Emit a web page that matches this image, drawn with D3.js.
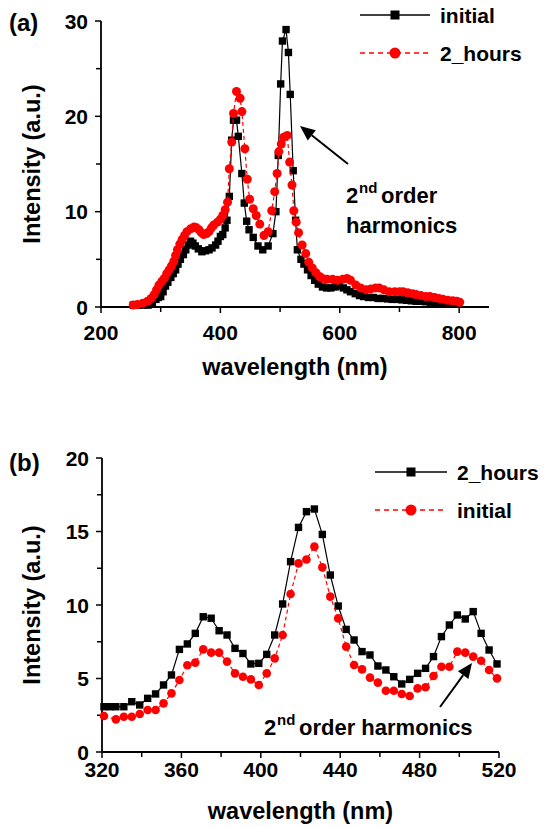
<!DOCTYPE html>
<html><head><meta charset="utf-8">
<script src="https://cdn.jsdelivr.net/npm/d3@7"></script>
<style>
body{margin:0;background:#fff;}
svg{display:block;font-family:"Liberation Sans",Arial,Helvetica,sans-serif;font-weight:bold;}
</style></head>
<body><svg id="c" width="545" height="827"></svg>
<script>
// ---------- Panel (a) data ----------
const aInitialX = [254,262,270,279,286,292,296,300,304,308,312,317,321,325,329,333,338,342,346,350,354,358,363,369,375,381,386,392,396,400,404,408,411,415,419,422,427,430,436,440,444,448,455,463,471,480,488,493,497,501,504,510,514,517,522,526,529,535,540,546,552,558,564,571,578,585,592,599,606,612,618,626,633,640,648,656,664,672,680,688,696,704,712,720,728,736,744,752,760,768,776,784,792,798];
const aInitialY = [0.2,0.2,0.2,0.2,0.4,0.8,1.0,1.1,1.6,2.2,2.6,3.1,3.5,3.9,4.5,5.0,5.5,6.0,6.5,6.9,6.7,6.4,6.1,5.8,5.9,6.0,6.2,6.5,6.9,7.4,7.6,8.3,9.1,11.6,17.5,19.6,19.6,17.9,14.0,10.9,9.0,8.1,7.3,6.4,6.0,6.4,7.7,10.0,15.9,23.4,27.9,29.1,26.7,22.3,14.3,9.1,6.0,5.0,4.5,3.9,3.3,2.8,2.4,2.1,2.0,2.0,2.1,2.2,2.0,1.8,1.6,1.4,1.2,1.1,1.0,1.0,0.9,0.9,0.85,0.8,0.8,0.75,0.7,0.65,0.6,0.6,0.55,0.5,0.45,0.4,0.4,0.35,0.3,0.3];
const aHoursX = [254,261,270,278,284,289,293,297,302,306,310,314,318,322,325,328,332,336,340,344,350,356,360,364,368,372,377,381,385,389,395,400,404,408,412,415,419,422,427,433,436,441,445,449,455,460,466,473,480,486,491,495,498,502,506,512,516,520,523,527,531,537,543,548,554,560,566,571,579,588,596,605,612,618,627,635,644,652,660,666,674,683,692,700,706,714,722,728,736,744,751,759,766,773,781,789,796,801];
const aHoursY = [0.2,0.25,0.4,0.6,0.9,1.3,1.8,2.3,2.7,3.0,3.5,3.9,4.3,4.8,5.4,6.0,6.6,7.1,7.5,7.9,8.2,8.4,8.3,8.1,7.8,7.6,7.7,7.9,8.3,8.6,8.9,9.2,9.6,10.2,11.0,14.5,17.3,20.3,22.6,21.9,20.5,16.6,13.4,11.3,10.3,9.6,8.7,7.5,7.9,10.1,12.1,14.0,16.3,17.1,17.8,18.0,15.2,12.8,10.1,8.9,7.8,6.5,5.6,4.7,4.1,3.6,3.2,3.0,2.9,2.9,2.8,2.9,3.0,2.8,2.3,2.0,1.8,1.9,2.0,2.0,1.8,1.6,1.6,1.6,1.6,1.5,1.4,1.3,1.2,1.1,1.1,1.0,0.9,0.8,0.7,0.65,0.6,0.5];
const aXTicks = [200,300,400,500,600,700,800];
const aXLabels = [200,400,600,800];
const aYTicks = [0,5,10,15,20,25,30];
const aYLabels = [0,10,20,30];
const aLegend = ["initial","2_hours"];

// ---------- Panel (b) data ----------
const bHoursX = [321,324,327,331,335,339,343,347,351,355,359,363,367,371,375,379,383,387,391,395,399,403,407,411,415,419,423,427,431,435,439,443,447,451,455,459,463,467,471,475,479,483,487,491,495,499,503,507,511,515,519];
const bHoursY = [3.08,3.08,3.08,3.08,3.42,3.2,3.65,3.95,4.56,5.24,6.98,7.35,8.07,9.2,9.1,8.25,7.96,7.05,6.7,5.99,6.03,6.64,7.96,10.07,12.95,15.28,16.35,16.53,14.8,12.04,9.93,8.34,7.62,6.83,6.6,5.85,5.58,5.12,4.63,4.94,5.35,5.69,6.49,7.85,8.64,9.32,9.05,9.55,8.07,6.94,5.99];
const bInitialX = [321,327,331,335,339,343,347,351,355,359,363,367,371,375,379,383,387,391,395,399,403,407,411,415,419,423,427,431,435,439,443,447,451,455,459,463,467,471,475,479,483,487,491,495,499,503,507,511,515,519];
const bInitialY = [2.45,2.22,2.4,2.4,2.59,2.86,2.86,3.31,3.99,4.9,5.9,6.08,6.98,6.76,6.76,6.15,5.35,5.12,4.94,4.56,5.35,6.37,7.96,10.75,12.83,13.1,13.97,12.56,10.57,9.09,7.17,5.92,5.62,5.06,4.72,4.17,4.17,3.95,3.81,4.33,4.4,5.17,5.8,5.8,6.83,6.76,6.49,6.21,5.58,5.01];
const bXTicks = [320,340,360,380,400,420,440,460,480,500,520];
const bXLabels = [320,360,400,440,480,520];
const bYTicks = [0,2.5,5,7.5,10,12.5,15,17.5,20];
const bYLabels = [0,5,10,15,20];
const bLegend = ["2_hours","initial"];

const svg = d3.select("#c");
const RED = "#ff0000";

function panel(cfg){
  const g = svg.append("g");
  const x = d3.scaleLinear().domain(cfg.xDomain).range(cfg.xRange);
  const y = d3.scaleLinear().domain(cfg.yDomain).range(cfg.yRange);

  g.append("line").attr("x1",cfg.xRange[0]).attr("x2",cfg.xRange[1])
    .attr("y1",cfg.yRange[0]).attr("y2",cfg.yRange[0])
    .attr("stroke","#000").attr("stroke-width",1.8);
  g.append("line").attr("x1",cfg.xRange[0]).attr("x2",cfg.xRange[0])
    .attr("y1",cfg.yRange[0]).attr("y2",cfg.yRange[1])
    .attr("stroke","#000").attr("stroke-width",1.8);
  g.selectAll(".xt").data(cfg.xTicks).enter().append("line")
    .attr("x1",d=>x(d)).attr("x2",d=>x(d))
    .attr("y1",cfg.yRange[0]).attr("y2",d=>cfg.yRange[0]+(cfg.xLabels.includes(d)?6:5))
    .attr("stroke","#000").attr("stroke-width",1.5);
  g.selectAll(".yt").data(cfg.yTicks).enter().append("line")
    .attr("y1",d=>y(d)).attr("y2",d=>y(d))
    .attr("x1",cfg.xRange[0]).attr("x2",d=>cfg.xRange[0]-(cfg.yLabels.includes(d)?6:5))
    .attr("stroke","#000").attr("stroke-width",1.5);
  g.selectAll(".xl").data(cfg.xLabels).enter().append("text")
    .attr("x",d=>x(d)).attr("y",cfg.xLabelY).attr("text-anchor","middle")
    .attr("font-size",21).text(d=>d);
  g.selectAll(".yl").data(cfg.yLabels).enter().append("text")
    .attr("x",cfg.xRange[0]-13).attr("y",d=>y(d)+7.5).attr("text-anchor","end")
    .attr("font-size",21).text(d=>d);
  g.append("text").attr("x",(cfg.xRange[0]+cfg.xRange[1])/2).attr("y",cfg.xTitleY)
    .attr("text-anchor","middle").attr("font-size",23.5).text("wavelength (nm)");
  g.append("text").attr("transform",`translate(40,${(cfg.yRange[0]+cfg.yRange[1])/2}) rotate(-90)`)
    .attr("text-anchor","middle").attr("font-size",23.5).text("Intensity (a.u.)");
  g.append("text").attr("x",9).attr("y",cfg.panelLabelY).attr("font-size",24).text(cfg.panelLabel);

  const line = d3.line().x(d=>x(d[0])).y(d=>y(d[1]));
  cfg.series.forEach(s=>{
    const pts = s.xs.map((v,i)=>[v,s.ys[i]]);
    g.append("path").datum(pts).attr("d",line).attr("fill","none")
      .attr("stroke",s.color).attr("stroke-width",1.2)
      .attr("stroke-dasharray",s.dash?"4,3":null);
    if(s.marker==="square"){
      g.selectAll(null).data(pts).enter().append("rect")
        .attr("x",d=>x(d[0])-3.7).attr("y",d=>y(d[1])-3.7)
        .attr("width",7.4).attr("height",7.4).attr("fill",s.color);
    } else {
      g.selectAll(null).data(pts).enter().append("circle")
        .attr("cx",d=>x(d[0])).attr("cy",d=>y(d[1])).attr("r",s.r||4.3).attr("fill",s.color);
    }
  });

  cfg.legend.forEach(L=>{
    const ly = L.y;
    g.append("line").attr("x1",cfg.legX[0]).attr("x2",cfg.legX[1]).attr("y1",ly).attr("y2",ly)
      .attr("stroke",L.color).attr("stroke-width",1.4).attr("stroke-dasharray",L.dash?"5,4":null);
    const mx=(cfg.legX[0]+cfg.legX[1])/2;
    if(L.marker==="square") g.append("rect").attr("x",mx-4.5).attr("y",ly-4.5).attr("width",9).attr("height",9).attr("fill",L.color);
    else g.append("circle").attr("cx",mx).attr("cy",ly).attr("r",5.5).attr("fill",L.color);
    g.append("text").attr("x",cfg.legX[1]+10).attr("y",ly+8).attr("font-size",21).text(L.label);
  });
  return {g,x,y};
}

function arrow(g,x1,y1,x2,y2){
  const ang=Math.atan2(y2-y1,x2-x1), L=15, W=6.5;
  const bx=x2-L*Math.cos(ang), by=y2-L*Math.sin(ang);
  g.append("line").attr("x1",x1).attr("y1",y1).attr("x2",bx).attr("y2",by).attr("stroke","#000").attr("stroke-width",2);
  const px=-Math.sin(ang), py=Math.cos(ang);
  g.append("path").attr("d",`M${x2},${y2}L${bx+px*W},${by+py*W}L${bx-px*W},${by-py*W}Z`).attr("fill","#000");
}

const A = panel({
  xDomain:[200,850], xRange:[101,489], yDomain:[0,30], yRange:[307,21],
  xTicks:aXTicks, xLabels:aXLabels, yTicks:aYTicks, yLabels:aYLabels,
  xLabelY:340, xTitleY:375, panelLabel:"(a)", panelLabelY:31,
  legX:[360,430],
  series:[
    {xs:aInitialX, ys:aInitialY, color:"#000", marker:"square", dash:false},
    {xs:aHoursX, ys:aHoursY, color:RED, marker:"circle", dash:true, r:4.5}
  ],
  legend:[
    {label:aLegend[0], color:"#000", marker:"square", dash:false, y:15},
    {label:aLegend[1], color:RED, marker:"circle", dash:true, y:53}
  ]
});
arrow(A.g,348,164,300,126);
A.g.append("text").attr("x",346).attr("y",203).attr("font-size",22).text("2");
A.g.append("text").attr("x",359).attr("y",193).attr("font-size",15).text("nd");
A.g.append("text").attr("x",381).attr("y",203).attr("font-size",22).text("order");
A.g.append("text").attr("x",346).attr("y",233).attr("font-size",22).text("harmonics");

const B = panel({
  xDomain:[320,520], xRange:[102,499], yDomain:[0,20], yRange:[752,458],
  xTicks:bXTicks, xLabels:bXLabels, yTicks:bYTicks, yLabels:bYLabels,
  xLabelY:777, xTitleY:819, panelLabel:"(b)", panelLabelY:471,
  legX:[375,447],
  series:[
    {xs:bHoursX, ys:bHoursY, color:"#000", marker:"square", dash:false},
    {xs:bInitialX, ys:bInitialY, color:RED, marker:"circle", dash:true}
  ],
  legend:[
    {label:bLegend[0], color:"#000", marker:"square", dash:false, y:472},
    {label:bLegend[1], color:RED, marker:"circle", dash:true, y:510}
  ]
});
arrow(B.g,440,707,472,663);
B.g.append("text").attr("x",264).attr("y",735).attr("font-size",22).text("2");
B.g.append("text").attr("x",277).attr("y",725).attr("font-size",15).text("nd");
B.g.append("text").attr("x",299).attr("y",735).attr("font-size",22).text("order harmonics");
</script></body></html>
